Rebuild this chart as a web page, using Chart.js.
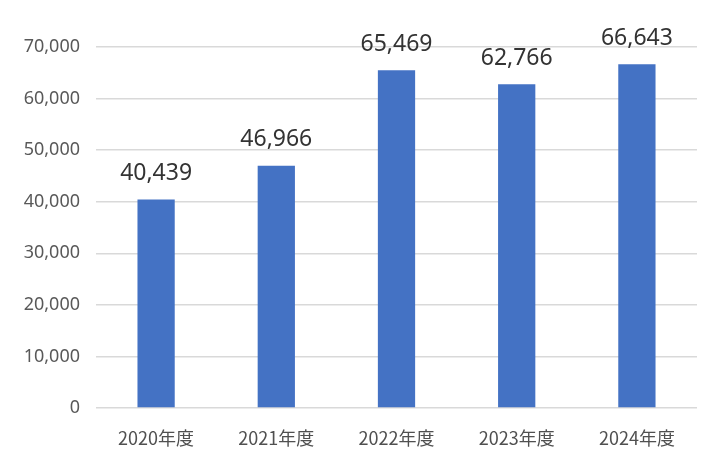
<!DOCTYPE html>
<html>
<head>
<meta charset="utf-8">
<script src="https://cdn.jsdelivr.net/npm/chart.js@4"></script>
<style>
  html, body { margin: 0; padding: 0; background: #fff; }
  #wrap { width: 710px; height: 474px; }
</style>
</head>
<body>
<div id="wrap"><canvas id="chart"></canvas></div>
<script>
const categories = ['2020年度', '2021年度', '2022年度', '2023年度', '2024年度']
const values = [40439, 46966, 65469, 62766, 66643]
const yMax = 70000
const yStep = 10000

const fmt = (v) => v.toLocaleString('en-US')

// numbers above each bar
const barLabels = {
  id: 'barLabels',
  afterDatasetsDraw(chart) {
    const ctx = chart.ctx
    const meta = chart.getDatasetMeta(0)
    ctx.save()
    ctx.font = '23px "Noto Sans", sans-serif'
    ctx.fillStyle = '#333333'
    ctx.textAlign = 'center'
    ctx.textBaseline = 'middle'
    meta.data.forEach((bar, i) => {
      ctx.fillText(fmt(values[i]), bar.x, bar.y - 26)
    })
    ctx.restore()
  }
}

new Chart(document.querySelector('#chart'), {
  type: 'bar',
  data: {
    labels: categories,
    datasets: [{
      data: values,
      backgroundColor: '#4472C4',
      borderWidth: 0,
      barPercentage: 0.31,
      categoryPercentage: 1
    }]
  },
  options: {
    responsive: true,
    maintainAspectRatio: false,
    animation: false,
    layout: { padding: { top: 47, right: 13, bottom: 8, left: 0 } },
    plugins: { legend: { display: false }, tooltip: { enabled: false } },
    scales: {
      x: {
        grid: { display: false, drawTicks: false },
        border: { display: false },
        ticks: {
          color: '#505050',
          padding: 19,
          font: { family: '"Noto Sans CJK JP", sans-serif', size: 18 }
        },
        afterFit: (scale) => { scale.height = 58 }
      },
      y: {
        min: 0,
        max: yMax,
        grid: { color: '#D9D9D9', lineWidth: 1.5, drawTicks: false },
        border: { display: false },
        ticks: {
          stepSize: yStep,
          color: '#595959',
          padding: 16,
          font: { family: '"Noto Sans", sans-serif', size: 18 },
          callback: (v) => fmt(v)
        },
        afterFit: (scale) => { scale.width = 96 }
      }
    }
  },
  plugins: [barLabels]
})
</script>
</body>
</html>
